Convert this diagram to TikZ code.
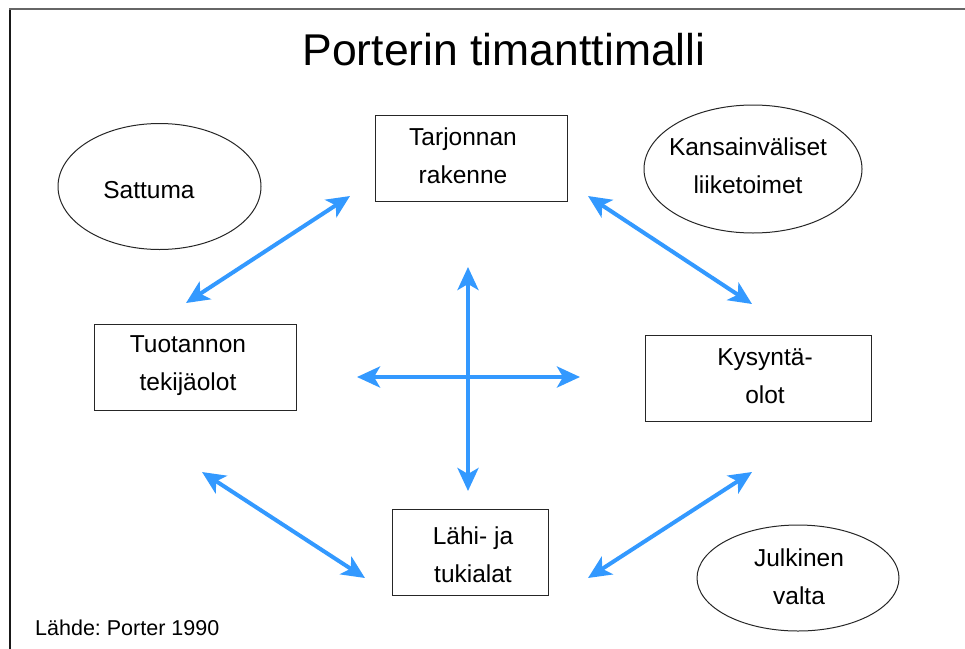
\documentclass[tikz,border=0pt]{standalone}
\usepackage{fontspec}
\setmainfont{Liberation Sans}
\usetikzlibrary{arrows.meta,shapes.geometric}
\definecolor{arrowblue}{RGB}{51,153,255}
\begin{document}
\frenchspacing
\begin{tikzpicture}[x=1pt,y=-1pt,
  shapebox/.style={draw=black!85, line width=1pt, rectangle, inner sep=0pt, outer sep=0pt},
  shapeoval/.style={draw=black!85, line width=1pt, ellipse, inner sep=0pt, outer sep=0pt},
  lbl/.style={align=center, inner sep=0pt, font=\fontsize{24.5}{38}\selectfont},
  dblarrow/.style={draw=arrowblue, line width=4pt, {Stealth[length=23pt,width=21pt,inset=6pt]}-{Stealth[length=23pt,width=21pt,inset=6pt]}}
]
\useasboundingbox (0,0) rectangle (965,648);
% frame
\draw[black!90, line width=1.5pt] (10,660) -- (10,9);
\draw[black!60, line width=2.2pt] (9.25,9) -- (980,9);

% title
\node[inner sep=0pt, font=\fontsize{44.5}{50}\selectfont] (title) at (504,50) {Porterin timanttimalli};

% boxes
\node[shapebox, minimum width=192pt, minimum height=86pt] (tarj) at (471,158) {};
\node[lbl] (tarjt) at (463,156) {Tarjonnan\\rakenne};
\node[shapebox, minimum width=202pt, minimum height=86pt] (tuot) at (195,367) {};
\node[lbl] (tuott) at (188,366) {Tuotannon\\tekijäolot};
\node[shapebox, minimum width=226pt, minimum height=86pt] (kys) at (758,378) {};
\node[lbl] (kyst) at (765,376) {Kysyntä-\\olot};
\node[shapebox, minimum width=156pt, minimum height=86pt] (lahi) at (470,552) {};
\node[lbl] (lahit) at (473,555) {Lähi- ja\\tukialat};

% ellipses
\node[shapeoval, minimum width=203pt, minimum height=126pt] (satt) at (159.5,186.5) {};
\node[lbl] (sattt) at (149,190) {Sattuma};
\node[shapeoval, minimum width=218pt, minimum height=128pt] (kans) at (753,169) {};
\node[lbl] (kanst) at (748,166) {Kansainväliset\\liiketoimet};
\node[shapeoval, minimum width=202pt, minimum height=106pt] (julk) at (798,578) {};
\node[lbl] (julkt) at (799,577) {Julkinen\\valta};

% source
\node[anchor=west, inner sep=0pt, font=\fontsize{21.5}{26}\selectfont] (src) at (35,628) {Lähde: Porter 1990};

% arrow end points
\coordinate (ul1) at (186,303);
\coordinate (ul2) at (350,196);
\coordinate (ur1) at (588,196);
\coordinate (ur2) at (752,304);
\coordinate (ll1) at (202,472);
\coordinate (ll2) at (365,578);
\coordinate (lr1) at (752,472);
\coordinate (lr2) at (588,578);
\coordinate (vt) at (468,267);
\coordinate (vb) at (468,491);
\coordinate (hl) at (357,377);
\coordinate (hr) at (580,377);

\draw[dblarrow] (ul1) -- (ul2);
\draw[dblarrow] (ur1) -- (ur2);
\draw[dblarrow] (ll1) -- (ll2);
\draw[dblarrow] (lr1) -- (lr2);
\draw[dblarrow] (vt) -- (vb);
\draw[dblarrow] (hl) -- (hr);
\end{tikzpicture}
\end{document}
